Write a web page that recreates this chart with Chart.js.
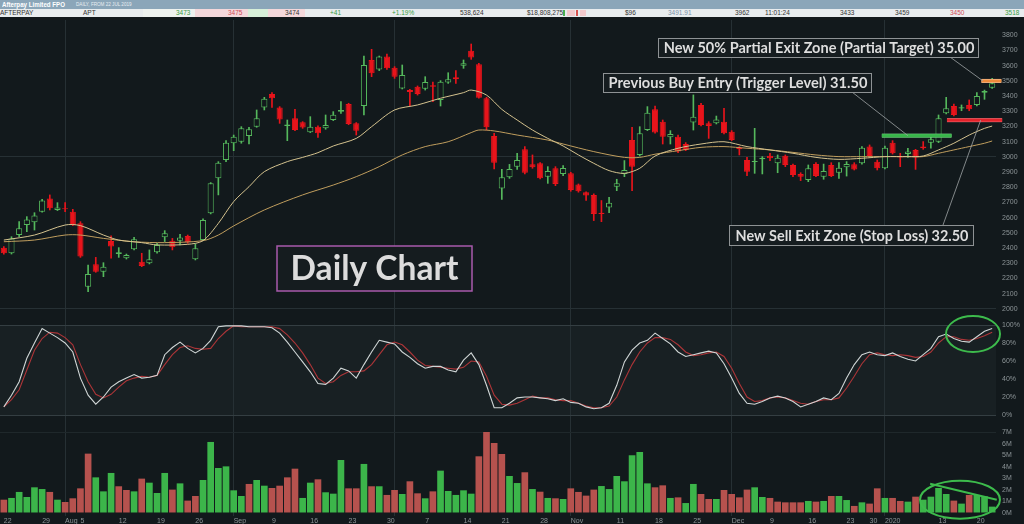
<!DOCTYPE html>
<html>
<head>
<meta charset="utf-8">
<script src="https://cdn.jsdelivr.net/npm/chart.js@4.4.1/dist/chart.umd.min.js"></script>
<style>
html, body { margin: 0; padding: 0; width: 1024px; height: 524px; overflow: hidden; background: #12191c; font-family: "Liberation Sans", Arial, sans-serif; }
#title { position: absolute; left: 0; top: 0; width: 1024px; height: 9px; background: #8ba6b9; }
#title b { position: absolute; left: 2px; top: 0; font-size: 7px; line-height: 9px; color: #fff; transform: scaleX(0.88); transform-origin: left center; white-space: nowrap; }
#title span { position: absolute; left: 76px; top: 0; font-size: 4.6px; line-height: 9px; color: #e8eef2; }
#quote { position: absolute; left: 0; top: 9px; width: 1024px; height: 8px; background: #e8ecee; font-size: 6.5px; line-height: 8px; color: #333; }
#quote i { position: absolute; top: 0; height: 8px; font-style: normal; }
#quote s { position: absolute; top: 0; height: 8px; text-decoration: none; }
#wrap { position: absolute; left: 0; top: 17px; width: 1024px; height: 507px; }
</style>
</head>
<body>
<div id="title"><b>Afterpay Limited FPO</b><span>DAILY, FROM 22 JUL 2019</span></div>
<div id="quote">
  <s style="left:143px;width:52px;background:#eef2ef"></s>
  <s style="left:195px;width:53px;background:#f4d8db"></s>
  <s style="left:248px;width:20px;background:#d7efd9"></s>
  <s style="left:268px;width:37px;background:#f4d8db"></s>
  <s style="left:563px;top:1px;height:6px;width:2px;background:#4caf50"></s>
  <s style="left:567px;top:1px;height:6px;width:8px;background:#f2c9cc"></s>
  <s style="left:576px;top:1px;height:6px;width:2px;background:#d9534f"></s>
  <s style="left:580px;top:1px;height:6px;width:6px;background:#f2c9cc"></s>
  <i style="left:0px">AFTERPAY</i>
  <i style="left:83px">APT</i>
  <i style="left:176px;color:#3a9c45">3473</i>
  <i style="left:228px;color:#d24b57">3475</i>
  <i style="left:285px">3474</i>
  <i style="left:330px;color:#3a9c45">+41</i>
  <i style="left:392px;color:#3a9c45">+1.19%</i>
  <i style="left:460px">538,624</i>
  <i style="left:527px">$18,808,275</i>
  <i style="left:625px">$96</i>
  <i style="left:668px;color:#7b8fa8">3491.91</i>
  <i style="left:735px">3962</i>
  <i style="left:765px">11:01:24</i>
  <i style="left:840px">3433</i>
  <i style="left:895px">3459</i>
  <i style="left:950px;color:#d24b57">3450</i>
  <i style="left:1005px;color:#3a9c45">3518</i>
</div>
<div id="wrap"><canvas id="chart"></canvas></div>
<script>
// Trading days shown (ASX, 22 Jul 2019 - 22 Jan 2020)
const julDays = [22, 23, 24, 25, 26, 29, 30, 31];
const augDays = [1, 2, 5, 6, 7, 8, 9, 12, 13, 14, 15, 16, 19, 20, 21, 22, 23, 26, 27, 28, 29, 30];
const sepDays = [2, 3, 4, 5, 6, 9, 10, 11, 12, 13, 16, 17, 18, 19, 20, 23, 24, 25, 26, 27, 30];
const octDays = [1, 2, 3, 4, 7, 8, 9, 10, 11, 14, 15, 16, 17, 18, 21, 22, 23, 24, 25, 28, 29, 30, 31];
const novDays = [1, 4, 5, 6, 7, 8, 11, 12, 13, 14, 15, 18, 19, 20, 21, 22, 25, 26, 27, 28, 29];
const decDays = [2, 3, 4, 5, 6, 9, 10, 11, 12, 13, 16, 17, 18, 19, 20, 23, 24, 27, 30, 31];
const janDays = [2, 3, 6, 7, 8, 9, 10, 13, 14, 15, 16, 17, 20, 21, 22];

const dates = [
  ...julDays.map(d => 'Jul ' + d), ...augDays.map(d => 'Aug ' + d),
  ...sepDays.map(d => 'Sep ' + d), ...octDays.map(d => 'Oct ' + d),
  ...novDays.map(d => 'Nov ' + d), ...decDays.map(d => 'Dec ' + d),
  ...janDays.map(d => 'Jan ' + d)
];

// x axis labels
const tickDates = ['Jul 22', 'Jul 29', 'Aug 1', 'Aug 5', 'Aug 12', 'Aug 19', 'Aug 26', 'Sep 2', 'Sep 9', 'Sep 16',
  'Sep 23', 'Sep 30', 'Oct 7', 'Oct 14', 'Oct 21', 'Oct 28', 'Nov 1', 'Nov 11', 'Nov 18', 'Nov 25',
  'Dec 2', 'Dec 9', 'Dec 16', 'Dec 23', 'Dec 30', 'Jan 2', 'Jan 13', 'Jan 20'];
const tickTexts = ['22', '29', 'Aug', '5', '12', '19', '26', 'Sep', '9', '16',
  '23', '30', '7', '14', '21', '28', 'Nov', '11', '18', '25',
  'Dec', '9', '16', '23', '30', '2020', '13', '20'];

// right axis labels
const priceTicks = [2000, 2100, 2200, 2300, 2400, 2500, 2600, 2700, 2800, 2900, 3000, 3100, 3200, 3300, 3400, 3500, 3600, 3700, 3800];
const stochTicks = [0, 20, 40, 60, 80, 100];
const volTicks = [0, 1, 2, 3, 4, 5, 6, 7];

// OHLC (cents)
const opens = [
  2403, 2366, 2486, 2552, 2570, 2640, 2727, 2651, 2660, 2640,
  2563, 2146, 2293, 2245, 2447, 2361, 2333, 2392, 2311, 2300,
  2372, 2471, 2449, 2449, 2480, 2326, 2453, 2629, 2859, 2980,
  3090, 3100, 3138, 3199, 3326, 3414, 3326, 3204, 3254, 3228,
  3162, 3199, 3188, 3243, 3298, 3348, 3221, 3335, 3638, 3576,
  3660, 3587, 3451, 3440, 3462, 3449, 3471, 3375, 3489, 3524,
  3600, 3699, 3609, 3386, 3138, 2793, 2866, 2936, 3050, 2951,
  2958, 2870, 2925, 2888, 2893, 2818, 2768, 2750, 2633, 2668,
  2804, 2888, 3111, 3013, 3177, 3313, 3232, 3129, 3133, 3085,
  3226, 3342, 3221, 3221, 3232, 3166, 3063, 2980, 2967, 2984,
  3008, 2958, 3008, 2947, 2888, 2848, 2953, 2870, 2947, 2896,
  2932, 2951, 2958, 3068, 2969, 2925, 3094, 3006, 3019, 3046,
  3068, 3094, 3100, 3287, 3335, 3318, 3342, 3342, 3423, 3456
];
const highs = [
  2410, 2475, 2574, 2607, 2633, 2721, 2750, 2699, 2699, 2655,
  2574, 2289, 2339, 2304, 2480, 2403, 2361, 2471, 2366, 2388,
  2432, 2515, 2464, 2491, 2486, 2427, 2592, 2831, 2969, 3107,
  3144, 3199, 3195, 3309, 3392, 3423, 3331, 3243, 3313, 3232,
  3265, 3204, 3276, 3298, 3364, 3353, 3226, 3664, 3708, 3664,
  3677, 3594, 3605, 3445, 3467, 3528, 3493, 3502, 3554, 3568,
  3638, 3743, 3616, 3392, 3155, 2918, 2951, 3024, 3068, 3013,
  2962, 2936, 2936, 2943, 2899, 2822, 2771, 2757, 2713, 2734,
  2853, 2976, 3195, 3199, 3331, 3335, 3243, 3173, 3144, 3094,
  3408, 3353, 3232, 3269, 3320, 3173, 3068, 2997, 3188, 3002,
  3024, 3013, 3013, 2953, 2896, 2947, 2962, 2953, 2962, 2962,
  2969, 2962, 3068, 3079, 2980, 3072, 3107, 3024, 3057, 3050,
  3101, 3144, 3276, 3392, 3348, 3342, 3375, 3423, 3440, 3517
];
const lows = [
  2360, 2361, 2475, 2508, 2519, 2636, 2651, 2647, 2640, 2548,
  2339, 2114, 2241, 2212, 2333, 2339, 2328, 2388, 2278, 2296,
  2366, 2443, 2388, 2421, 2432, 2322, 2449, 2625, 2750, 2969,
  3041, 3090, 3085, 3195, 3309, 3326, 3221, 3107, 3173, 3188,
  3160, 3129, 3182, 3239, 3287, 3212, 3144, 3276, 3528, 3568,
  3576, 3517, 3447, 3335, 3407, 3440, 3364, 3335, 3484, 3484,
  3583, 3642, 3386, 3177, 2921, 2721, 2859, 2918, 2888, 2925,
  2855, 2826, 2811, 2877, 2774, 2768, 2713, 2581, 2574, 2633,
  2778, 2870, 2778, 3006, 3173, 3157, 3085, 3085, 3028, 3041,
  3177, 3204, 3122, 3217, 3151, 3107, 3013, 2877, 2892, 2888,
  2975, 2896, 2936, 2870, 2844, 2837, 2870, 2853, 2870, 2859,
  2874, 2914, 2953, 2997, 2914, 2921, 3019, 2936, 2997, 2918,
  3050, 3057, 3094, 3283, 3269, 3304, 3304, 3335, 3379, 3451
];
const closes = [
  2366, 2464, 2530, 2589, 2614, 2714, 2662, 2668, 2655, 2552,
  2344, 2230, 2245, 2278, 2410, 2372, 2355, 2458, 2282, 2326,
  2421, 2497, 2405, 2469, 2438, 2399, 2585, 2826, 2962, 3094,
  3133, 3188, 3182, 3254, 3383, 3386, 3247, 3214, 3177, 3193,
  3199, 3155, 3210, 3278, 3309, 3217, 3173, 3605, 3550, 3660,
  3583, 3528, 3539, 3427, 3414, 3493, 3462, 3495, 3511, 3511,
  3616, 3655, 3390, 3195, 2962, 2866, 2921, 2980, 2896, 2932,
  2859, 2907, 2822, 2927, 2783, 2774, 2746, 2625, 2625, 2699,
  2826, 2914, 2936, 3155, 3291, 3160, 3133, 3151, 3035, 3046,
  3265, 3210, 3204, 3247, 3155, 3111, 3050, 2903, 2973, 2995,
  2991, 2995, 2947, 2881, 2870, 2925, 2875, 2907, 2875, 2929,
  2954, 2918, 3061, 3006, 2925, 3061, 3024, 2997, 3035, 2997,
  3057, 3116, 3254, 3320, 3276, 3327, 3313, 3401, 3434, 3484
];

// moving averages, read at [day index, value]
const maFast = [[0, 2453], [4, 2486], [8, 2552], [10, 2548], [13, 2486], [15, 2453], [18, 2436], [20, 2421], [24, 2425], [26, 2449],
  [28, 2563], [30, 2706], [32, 2804], [34, 2903], [37, 2969], [39, 2997], [41, 3028], [43, 3072], [46, 3122], [48, 3199],
  [51, 3309], [54, 3342], [57, 3386], [60, 3423], [61, 3440], [63, 3407], [65, 3313], [67, 3243], [69, 3177], [71, 3122],
  [73, 3072], [75, 3013], [77, 2958], [79, 2910], [81, 2892], [83, 2925], [85, 3006], [88, 3057], [91, 3085], [94, 3100],
  [97, 3068], [100, 3046], [103, 3024], [106, 2997], [109, 2984], [112, 2991], [115, 3002], [118, 3002], [120, 3006],
  [122, 3046], [124, 3090], [126, 3144], [128, 3188], [129, 3203]];
const maSlow = [[0, 2442], [4, 2453], [8, 2486], [10, 2486], [13, 2464], [17, 2442], [21, 2436], [26, 2449], [28, 2486], [30, 2546],
  [34, 2651], [39, 2750], [43, 2815], [46, 2870], [49, 2936], [52, 3013], [55, 3068], [58, 3100], [61, 3160], [62, 3177],
  [64, 3171], [67, 3144], [71, 3111], [73, 3085], [77, 3035], [81, 2997], [83, 2997], [85, 3018], [88, 3041], [91, 3063],
  [94, 3068], [97, 3057], [100, 3046], [103, 3030], [106, 3013], [109, 3002], [112, 3002], [115, 3002], [118, 3002],
  [120, 3002], [122, 3024], [124, 3046], [126, 3068], [128, 3090], [129, 3105]];

// stochastic %K and %D (percent)
const stochK = [
  9, 22, 37, 63, 80, 96, 91, 86, 80, 70,
  41, 22, 12, 20, 31, 37, 41, 45, 41, 42,
  44, 67, 75, 81, 74, 69, 74, 83, 98, 99,
  99, 99, 98, 98, 98, 97, 91, 81, 70, 59,
  48, 35, 34, 41, 52, 49, 41, 56, 70, 83,
  81, 79, 70, 64, 57, 52, 54, 54, 50, 48,
  61, 69, 56, 33, 8, 8, 13, 19, 20, 20,
  19, 18, 16, 18, 14, 13, 9, 7, 8, 13,
  33, 59, 72, 80, 83, 91, 85, 79, 70, 65,
  67, 69, 71, 69, 57, 41, 24, 13, 12, 15,
  19, 21, 19, 15, 9, 12, 15, 19, 17, 24,
  41, 56, 67, 70, 67, 66, 69, 65, 62, 60,
  67, 74, 87, 90, 85, 82, 81, 87, 93, 96
];
const stochD = [
  9, 17, 28, 50, 72, 85, 92, 91, 86, 78,
  56, 37, 23, 19, 23, 31, 38, 41, 43, 42,
  44, 56, 67, 75, 77, 74, 73, 74, 85, 93,
  99, 98, 98, 98, 98, 98, 96, 89, 80, 69,
  56, 41, 35, 37, 44, 48, 48, 49, 56, 67,
  78, 81, 78, 70, 61, 55, 54, 53, 52, 51,
  53, 60, 59, 43, 22, 12, 11, 13, 17, 21,
  19, 19, 17, 16, 16, 13, 10, 8, 8, 10,
  20, 39, 56, 70, 80, 86, 86, 84, 78, 70,
  66, 67, 69, 70, 65, 52, 35, 20, 15, 16,
  19, 20, 19, 16, 13, 12, 15, 17, 17, 19,
  30, 43, 57, 67, 69, 67, 66, 67, 66, 64,
  65, 70, 80, 87, 87, 84, 83, 85, 88, 92
];

// volume (millions) and its colour: u = up day, d = down day
const volumes = [
  1.15, 1.30, 1.82, 1.38, 2.22, 2.07, 1.82, 1.15, 0.95, 1.27,
  2.13, 5.13, 3.08, 1.87, 3.46, 2.31, 1.99, 1.87, 2.97, 2.62,
  1.73, 3.46, 2.02, 2.56, 1.07, 1.47, 2.85, 6.14, 3.89, 4.03,
  1.96, 1.47, 2.51, 2.85, 2.36, 2.16, 2.36, 3.08, 3.83, 1.30,
  2.62, 2.91, 1.79, 1.67, 4.58, 2.13, 2.13, 4.24, 2.31, 2.31,
  1.56, 1.99, 1.64, 2.74, 1.70, 1.27, 1.87, 3.66, 1.90, 1.56,
  1.96, 1.67, 4.90, 7.00, 6.05, 5.10, 3.20, 2.59, 3.52, 2.07,
  1.84, 1.30, 1.27, 1.21, 2.13, 1.82, 1.50, 2.02, 2.33, 2.07,
  3.20, 2.74, 4.99, 5.27, 2.56, 2.22, 2.39, 1.30, 1.35, 0.86,
  2.51, 1.64, 1.21, 1.21, 1.99, 1.64, 1.35, 2.02, 2.22, 1.38,
  1.30, 0.98, 0.92, 0.92, 0.92, 1.04, 0.98, 1.04, 1.47, 1.47,
  1.12, 0.61, 0.92, 0.81, 2.13, 1.30, 1.30, 1.04, 0.98, 1.41,
  1.15, 1.41, 2.16, 1.64, 1.07, 0.81, 1.56, 1.56, 1.44, 0.55
];
const volDir = ['duuuuududd', 'dduuuddudu', 'uududduuuu', 'uuduuddddu', 'uduuuddudu',
  'ddudduduuu', 'uudddduudu', 'dududddduu', 'uuuuuddudu', 'uddudddduu',
  'dddddududu', 'ududduddud', 'uuuududuuu'].join('').split('');

// trade levels and notes
const levels = [
  { from: 114.6, to: 123.7, price: 3140, color: '#38b54a', edge: '#7fd98a' },
  { from: 123.1, to: 130.3, price: 3242, color: '#e4232b', edge: '#f07a7e' },
  { from: 127.6, to: 130.2, price: 3500, color: '#ee8a3a', edge: '#f8d2b0' }
];
const notes = [
  { text: 'New 50% Partial Exit Zone (Partial Target) 35.00', x: 658, y: 38, w: 320, h: 19, tw: 311, lineTo: [950, 57], level: 2, at: 127.8 },
  { text: 'Previous Buy Entry (Trigger Level) 31.50', x: 603, y: 73, w: 268, h: 19, tw: 259, lineTo: [852, 92], level: 0, at: 118 },
  { text: 'New Sell Exit Zone (Stop Loss) 32.50', x: 729, y: 225, w: 244, h: 20, tw: 233, lineTo: [943, 225], level: 1, at: 127.5 }
];

const BG = '#12191c';
const PANE = '#182023';
const GRID = '#263034';
const UP = '#55b85c';
const DOWN = '#e8141b';

const monthStarts = dates.map((d, i) => i > 0 && d.slice(0, 3) !== dates[i - 1].slice(0, 3) ? i : -1).filter(i => i >= 0);

function fitFont(ctx, text, width, weight) {
  ctx.font = weight + ' 20px Lato';
  return 20 * width / ctx.measureText(text).width;
}

// lighter band behind the stochastic pane
const paneBand = {
  id: 'paneBand',
  beforeDraw(chart) {
    const s = chart.scales.yStoch, a = chart.chartArea;
    chart.ctx.save();
    chart.ctx.fillStyle = PANE;
    chart.ctx.fillRect(a.left, s.top, a.right - a.left, s.bottom - s.top);
    chart.ctx.restore();
  }
};

const annotate = {
  id: 'annotate',
  afterDraw(chart) {
    const ctx = chart.ctx;
    const x = chart.scales.x, yP = chart.scales.yPrice, yS = chart.scales.yStoch, yV = chart.scales.yVol;
    const top = chart.canvas.getBoundingClientRect().top;
    ctx.save();
    ctx.translate(0, -top); // notes are placed in page pixels

    // level bars
    levels.forEach(l => {
      const y = yP.getPixelForValue(l.price) + top;
      const x0 = x.getPixelForValue(l.from), x1 = x.getPixelForValue(l.to);
      ctx.fillStyle = l.edge;
      ctx.fillRect(x0, y - 2, x1 - x0, 4);
      ctx.fillStyle = l.color;
      ctx.fillRect(x0, y - 1.5, x1 - x0, 3);
    });

    // notes with leader lines
    notes.forEach(n => {
      ctx.strokeStyle = '#a0a4a6';
      ctx.lineWidth = 0.8;
      ctx.beginPath();
      ctx.moveTo(n.lineTo[0], n.lineTo[1]);
      ctx.lineTo(x.getPixelForValue(n.at), yP.getPixelForValue(levels[n.level].price) + top);
      ctx.stroke();
      ctx.fillStyle = '#161d20';
      ctx.fillRect(n.x, n.y, n.w, n.h);
      ctx.strokeStyle = '#8e9294';
      ctx.lineWidth = 1;
      ctx.strokeRect(n.x + 0.5, n.y + 0.5, n.w, n.h);
      const size = fitFont(ctx, n.text, n.tw, 'bold');
      ctx.font = 'bold ' + size + 'px Lato';
      ctx.fillStyle = '#dedede';
      ctx.textAlign = 'center';
      ctx.textBaseline = 'middle';
      ctx.fillText(n.text, n.x + n.w / 2 + 1, n.y + n.h / 2 + 1);
    });

    // "Daily Chart" label
    ctx.fillStyle = '#151c1f';
    ctx.fillRect(277, 246, 195, 45);
    ctx.strokeStyle = '#a85aac';
    ctx.lineWidth = 1.5;
    ctx.strokeRect(277, 246, 195, 45);
    const big = fitFont(ctx, 'Daily Chart', 168, 'bold');
    ctx.font = 'bold ' + big + 'px Lato';
    ctx.fillStyle = '#dcdcdc';
    ctx.textAlign = 'center';
    ctx.textBaseline = 'middle';
    ctx.fillText('Daily Chart', 374.5, 269);
    ctx.restore();

    // green rings on stochastic and volume
    ctx.save();
    ctx.strokeStyle = '#3dbb4c';
    ctx.lineWidth = 2;
    ctx.beginPath();
    ctx.ellipse(x.getPixelForValue(126.5), yS.getPixelForValue(90), 27, 18, 0, 0, Math.PI * 2);
    ctx.stroke();
    ctx.beginPath();
    ctx.ellipse(x.getPixelForValue(124.8), yV.getPixelForValue(1.15), 40, 19, 0, 0, Math.PI * 2);
    ctx.stroke();
    ctx.beginPath();
    ctx.moveTo(x.getPixelForValue(120.9), yV.getPixelForValue(2.53));
    ctx.lineTo(x.getPixelForValue(129.6), yV.getPixelForValue(1.15));
    ctx.stroke();
    ctx.restore();
  }
};

const isUp = opens.map((o, i) => closes[i] >= o);
const tickFont = { family: 'Liberation Sans', size: 7 };

function rightAxis(weight, min, max, ticks, fmt, gridFn) {
  return {
    type: 'linear', axis: 'y', position: 'right', stack: 'panes', stackWeight: weight,
    min: min, max: max,
    afterBuildTicks: s => { s.ticks = ticks.map(v => ({ value: v })); },
    afterFit: s => { s.width = 28; s.paddingTop = 0; s.paddingBottom = 0; },
    border: { display: false },
    grid: { drawTicks: false, color: gridFn, lineWidth: 1 },
    ticks: { autoSkip: false, color: '#8c9497', font: tickFont, padding: 6, crossAlign: 'near', callback: fmt }
  };
}

new Chart(document.getElementById('chart'), {
  type: 'bar',
  data: {
    labels: dates,
    datasets: [
      {
        type: 'line', label: 'MA fast', yAxisID: 'yPrice', order: 0,
        data: maFast.map(p => ({ x: dates[p[0]], y: p[1] })),
        borderColor: '#d5c38f', borderWidth: 1, pointRadius: 0, tension: 0.3
      },
      {
        type: 'line', label: 'MA slow', yAxisID: 'yPrice', order: 0,
        data: maSlow.map(p => ({ x: dates[p[0]], y: p[1] })),
        borderColor: '#c09e5e', borderWidth: 1, pointRadius: 0, tension: 0.3
      },
      {
        label: 'Body', yAxisID: 'yPrice', order: 1, grouped: false,
        data: opens.map((o, i) => [o, closes[i]]),
        backgroundColor: isUp.map(u => u ? BG : DOWN),
        borderColor: isUp.map(u => u ? UP : DOWN),
        borderWidth: 1, borderSkipped: false, minBarLength: 1,
        barPercentage: 0.8, categoryPercentage: 1
      },
      {
        label: 'Wick', yAxisID: 'yPrice', order: 2, grouped: false,
        data: lows.map((l, i) => [l, highs[i]]),
        backgroundColor: isUp.map(u => u ? UP : DOWN),
        barThickness: 1
      },
      {
        type: 'line', label: '%K', yAxisID: 'yStoch', order: 0,
        data: stochK, borderColor: '#d0d6d6', borderWidth: 1.1, pointRadius: 0
      },
      {
        type: 'line', label: '%D', yAxisID: 'yStoch', order: 1,
        data: stochD, borderColor: '#ad3538', borderWidth: 1.1, pointRadius: 0
      },
      {
        label: 'Volume', yAxisID: 'yVol', order: 3, grouped: false,
        data: volumes,
        backgroundColor: volDir.map(d => d === 'u' ? '#3cb54a' : '#b6524e'),
        barPercentage: 0.87, categoryPercentage: 1
      }
    ]
  },
  options: {
    animation: false,
    responsive: true,
    maintainAspectRatio: false,
    layout: { padding: { top: 3, left: 0, right: 0, bottom: 0 } },
    plugins: { legend: { display: false }, tooltip: { enabled: false } },
    scales: {
      x: {
        type: 'category', offset: true,
        afterFit: s => { s.height = 8; s.paddingLeft = 0; s.paddingRight = 0; },
        border: { display: false },
        grid: { offset: false, drawTicks: false, color: c => monthStarts.includes(c.index) ? GRID : 'transparent' },
        ticks: {
          autoSkip: false, maxRotation: 0, minRotation: 0, align: 'start', padding: 1,
          color: '#8c9497', font: tickFont,
          callback: (v, i) => { const k = tickDates.indexOf(dates[i]); return k >= 0 ? tickTexts[k] : ''; }
        }
      },
      yPrice: rightAxis(305, 1894, 3901, priceTicks, v => v,
        c => c.tick && c.tick.value % 1000 === 0 ? GRID : 'transparent'),
      yStoch: rightAxis(90, 0, 100, stochTicks, v => v + '%',
        c => c.tick && (c.tick.value === 0 || c.tick.value === 100) ? '#343e42' : 'transparent'),
      yVol: rightAxis(101, -0.26, 8.47, volTicks, v => v + 'M',
        c => c.tick && c.tick.value === 7 ? '#1f282b' : 'transparent')
    }
  },
  plugins: [paneBand, annotate]
});
</script>
</body>
</html>
